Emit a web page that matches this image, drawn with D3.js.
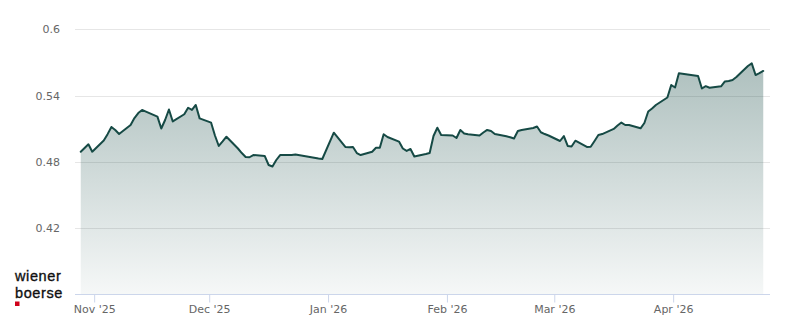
<!DOCTYPE html>
<html>
<head>
<meta charset="utf-8">
<script src="https://cdn.jsdelivr.net/npm/d3@7/dist/d3.min.js"></script>
<style>
	body { margin: 0; background: #fff; }
	svg { display: block; }
	.tick-label { font-family: "DejaVu Sans", sans-serif; font-size: 11px; fill: #666; }
	.logo { font-family: "Liberation Sans", Arial, sans-serif; font-size: 14.5px; letter-spacing: 0.6px; fill: #111; stroke: #111; stroke-width: 0.35px; }
</style>
</head>
<body>
<svg id="vis" width="800" height="324"></svg>
<script>
// trading days (closing price)
const dates = [
	"2025-10-28", "2025-10-29", "2025-10-30", "2025-10-31",
	"2025-11-03", "2025-11-04", "2025-11-05", "2025-11-06", "2025-11-07",
	"2025-11-10", "2025-11-11", "2025-11-12", "2025-11-13", "2025-11-14",
	"2025-11-17", "2025-11-18", "2025-11-19", "2025-11-20", "2025-11-21",
	"2025-11-24", "2025-11-25", "2025-11-26", "2025-11-27", "2025-11-28",
	"2025-12-01", "2025-12-02", "2025-12-03", "2025-12-04", "2025-12-05",
	"2025-12-08", "2025-12-09", "2025-12-10", "2025-12-11", "2025-12-12",
	"2025-12-15", "2025-12-16", "2025-12-17", "2025-12-18", "2025-12-19",
	"2025-12-22", "2025-12-23", "2025-12-29", "2025-12-30",
	"2026-01-02",
	"2026-01-05", "2026-01-06", "2026-01-07", "2026-01-08", "2026-01-09",
	"2026-01-12", "2026-01-13", "2026-01-14", "2026-01-15", "2026-01-16",
	"2026-01-19", "2026-01-20", "2026-01-21", "2026-01-22", "2026-01-23",
	"2026-01-26", "2026-01-27", "2026-01-28", "2026-01-29", "2026-01-30",
	"2026-02-02", "2026-02-03", "2026-02-04", "2026-02-05", "2026-02-06",
	"2026-02-09", "2026-02-10", "2026-02-11", "2026-02-12", "2026-02-13",
	"2026-02-16", "2026-02-17", "2026-02-18", "2026-02-19", "2026-02-20",
	"2026-02-23", "2026-02-24", "2026-02-25", "2026-02-26", "2026-02-27",
	"2026-03-02", "2026-03-03", "2026-03-04", "2026-03-05", "2026-03-06",
	"2026-03-09", "2026-03-10", "2026-03-11", "2026-03-12", "2026-03-13",
	"2026-03-16", "2026-03-17", "2026-03-18", "2026-03-19", "2026-03-20",
	"2026-03-23", "2026-03-24", "2026-03-25", "2026-03-26", "2026-03-27",
	"2026-03-30", "2026-03-31", "2026-04-01", "2026-04-02",
	"2026-04-07", "2026-04-08", "2026-04-09", "2026-04-10",
	"2026-04-13", "2026-04-14", "2026-04-15", "2026-04-16", "2026-04-17",
	"2026-04-20", "2026-04-21", "2026-04-22", "2026-04-23", "2026-04-24"
];

const prices = [
	0.4893, 0.4927, 0.4960, 0.4893,
	0.4994, 0.5052, 0.5117, 0.5089, 0.5053,
	0.5135, 0.5198, 0.5243, 0.5271, 0.5256,
	0.5211, 0.5103, 0.5180, 0.5275, 0.5167,
	0.5232, 0.5291, 0.5271, 0.5316, 0.5195,
	0.5156, 0.5040, 0.4945, 0.4986, 0.5029,
	0.4922, 0.4881, 0.4845, 0.4843, 0.4863,
	0.4854, 0.4773, 0.4759, 0.4818, 0.4863,
	0.4863, 0.4868, 0.4832, 0.4827,
	0.5065,
	0.4936, 0.4934, 0.4936, 0.4881, 0.4863,
	0.4893, 0.4929, 0.4929, 0.5051, 0.5026,
	0.4985, 0.4922, 0.4900, 0.4918, 0.4850,
	0.4872, 0.4881, 0.5035, 0.5110, 0.5044,
	0.5040, 0.5017, 0.5090, 0.5058, 0.5051,
	0.5040, 0.5067, 0.5090, 0.5081, 0.5053,
	0.5033, 0.5024, 0.5013, 0.5081, 0.5090,
	0.5108, 0.5121, 0.5069, 0.5053, 0.5040,
	0.4990, 0.5035, 0.4945, 0.4940, 0.4993,
	0.4936, 0.4938, 0.4990, 0.5044, 0.5053,
	0.5099, 0.5130, 0.5157, 0.5135, 0.5135,
	0.5105, 0.5153, 0.5257, 0.5284, 0.5316,
	0.5384, 0.5497, 0.5474, 0.5603,
	0.5578, 0.5465, 0.5486, 0.5472,
	0.5485, 0.5529, 0.5533, 0.5542, 0.5569,
	0.5669, 0.5693, 0.5587, 0.5605, 0.5624
];

const yTicks = [0.42, 0.48, 0.54, 0.6];
const yTickLabels = ["0.42", "0.48", "0.54", "0.6"];
const xDomain = ["2025-10-27", "2026-04-26"];
const monthNames = ["Jan", "Feb", "Mar", "Apr", "May", "Jun", "Jul", "Aug", "Sep", "Oct", "Nov", "Dec"];
const logoLines = ["wiener", "boerse"];

const lineColor = "#164a45";

const parseDate = d3.timeParse("%Y-%m-%d");
// points sit at midday of their trading day
const data = dates.map((d, i) => ({ date: d3.timeHour.offset(parseDate(d), 12), value: prices[i] }));

const svg = d3.select("svg#vis");

const plot = { left: 75, right: 769, top: 29.4, bottom: 294.6 };

const x = d3.scaleTime()
	.domain(xDomain.map(parseDate))
	.range([plot.left, plot.right]);

const y = d3.scaleLinear()
	.domain([0.36, 0.6])
	.range([plot.bottom, plot.top]);

// gradient under the line
const defs = svg.append("defs");
const grad = defs.append("linearGradient")
	.attr("id", "areaFill")
	.attr("x1", 0).attr("y1", 0)
	.attr("x2", 0).attr("y2", 1);
grad.append("stop").attr("offset", "0%").attr("stop-color", lineColor).attr("stop-opacity", 0.35);
grad.append("stop").attr("offset", "100%").attr("stop-color", lineColor).attr("stop-opacity", 0.04);

// grid lines
svg.append("g")
	.selectAll("line")
	.data(yTicks)
	.enter()
	.append("line")
	.attr("x1", plot.left)
	.attr("x2", plot.right + 1)
	.attr("y1", d => Math.round(y(d)) + 0.5)
	.attr("y2", d => Math.round(y(d)) + 0.5)
	.attr("stroke", "#e6e6e6")
	.attr("stroke-width", 1);

// y labels
svg.append("g")
	.selectAll("text")
	.data(yTicks)
	.enter()
	.append("text")
	.attr("class", "tick-label")
	.attr("x", 60)
	.attr("y", d => y(d) + 4)
	.attr("text-anchor", "end")
	.text((d, i) => yTickLabels[i]);

// area + line
const area = d3.area()
	.x(d => x(d.date))
	.y0(y(0.36))
	.y1(d => y(d.value));

const line = d3.line()
	.x(d => x(d.date))
	.y(d => y(d.value));

svg.append("path")
	.datum(data)
	.attr("d", area)
	.attr("fill", "url(#areaFill)");

svg.append("path")
	.datum(data)
	.attr("d", line)
	.attr("fill", "none")
	.attr("stroke", lineColor)
	.attr("stroke-width", 2)
	.attr("stroke-linejoin", "round")
	.attr("stroke-linecap", "round");

// x axis
const xAxis = d3.axisBottom(x)
	.ticks(d3.timeMonth.every(1))
	.tickSize(8)
	.tickSizeOuter(0)
	.tickFormat(d => monthNames[d.getMonth()] + " '" + String(d.getFullYear()).slice(2));

const gx = svg.append("g")
	.attr("transform", translate(0, Math.round(plot.bottom) - 0.5))
	.call(xAxis);

gx.select(".domain")
	.attr("d", "M" + plot.left + ",0H" + (plot.right + 1))
	.attr("stroke", "#ccd6eb");
gx.selectAll(".tick line").attr("stroke", "#ccd6eb");
gx.selectAll(".tick text")
	.attr("class", "tick-label")
	.attr("y", 11)
	.attr("dy", "0.71em");

// logo, two stacked words
const logo = svg.append("g");
logo.selectAll("text")
	.data(logoLines)
	.enter()
	.append("text")
	.attr("class", "logo")
	.attr("x", 15)
	.attr("y", (d, i) => i === 0 ? 281 : 297.5)
	.text(d => d);
logo.append("rect")
	.attr("x", 15).attr("y", 301.5)
	.attr("width", 4.5).attr("height", 4.5)
	.attr("fill", "#d0021b");

function translate(tx, ty) {
	return "translate(" + tx + "," + ty + ")";
}
</script>
</body>
</html>
